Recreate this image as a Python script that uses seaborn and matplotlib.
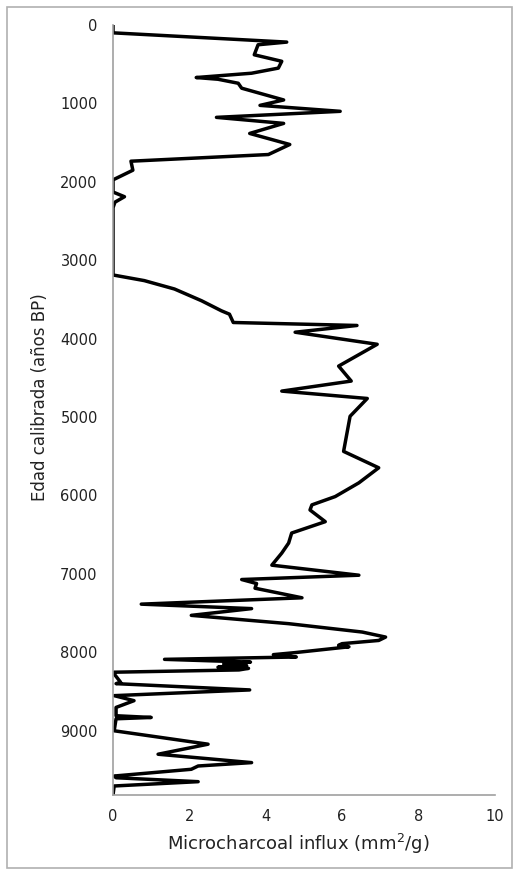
import matplotlib
matplotlib.use("Agg")
import matplotlib.pyplot as plt
import seaborn as sns
import pandas as pd
from matplotlib.patches import Rectangle

# edad calibrada (años BP) y flujo de microcarbón (mm2/g)
age = [0, 100, 218, 252, 380, 463, 550, 615, 670, 692, 743, 806, 956, 1025,
       1101, 1178, 1255, 1383, 1524, 1652, 1737, 1852, 1975, 2130, 2190, 2260,
       2330, 3188, 3260, 3367, 3517, 3645, 3688, 3794, 3832, 3918, 4072, 4350,
       4541, 4669, 4763, 4990, 5438, 5647, 5839, 6014, 6120, 6185, 6334, 6479,
       6607, 6735, 6889, 7017, 7072, 7123, 7183, 7305, 7386, 7443, 7529, 7635,
       7742, 7806, 7849, 7890, 7910, 7930, 8005, 8030, 8060, 8090, 8125, 8150,
       8170, 8190, 8205, 8225, 8254, 8276, 8383, 8400, 8480, 8553, 8617, 8703,
       8809, 8831, 8848, 9001, 9172, 9300, 9407, 9450, 9492, 9578, 9600, 9650,
       9705, 9820]
influx = [0, 0, 4.55, 3.8, 3.7, 4.42, 4.33, 3.63, 2.18, 2.75, 3.28, 3.37, 4.47,
          3.85, 5.95, 2.71, 4.47, 3.58, 4.63, 4.07, 0.47, 0.52, 0.0, 0.0, 0.3,
          0.05, 0, 0, 0.82, 1.61, 2.32, 2.84, 3.05, 3.15, 6.39, 4.77, 6.92,
          5.91, 6.24, 4.42, 6.66, 6.21, 6.04, 6.96, 6.44, 5.82, 5.21, 5.16,
          5.56, 4.68, 4.6, 4.42, 4.16, 6.44, 3.37, 3.76, 3.72, 4.95, 0.74,
          3.63, 2.05, 4.6, 6.53, 7.14, 6.96, 6.0, 5.91, 6.18, 4.75, 4.2, 4.8,
          1.35, 3.6, 2.9, 3.5, 2.75, 3.55, 3.3, 0.03, 0.03, 0.2, 0.08, 3.58,
          0.03, 0.55, 0.08, 0.08, 1.0, 0.08, 0.03, 2.49, 1.18, 3.63, 2.23,
          2.05, 0.03, 0.08, 2.23, 0.03, 0]

y_ticks = [0, 1000, 2000, 3000, 4000, 5000, 6000, 7000, 8000, 9000]
x_ticks = [0, 2, 4, 6, 8, 10]

df = pd.DataFrame({"age": age, "influx": influx})

sns.set_theme(style="white")
plt.rcParams["font.family"] = ["DejaVu Sans"]

fig = plt.figure(figsize=(5.17, 8.77), dpi=100)
ax = fig.add_axes([0.2186, 0.0935, 0.957 - 0.2186, 0.9715 - 0.0935])

sns.lineplot(data=df, x="influx", y="age", sort=False, estimator=None,
             color="black", linewidth=2.5, ax=ax)

ax.set_ylim(9820, 0)
ax.set_xlim(0, 10)
ax.set_yticks(y_ticks)
ax.set_xticks(x_ticks)
ax.tick_params(length=0, labelsize=10.5, colors="#222222")
ax.tick_params(axis="y", pad=11)
ax.tick_params(axis="x", pad=10)

for s in ["top", "right"]:
    ax.spines[s].set_visible(False)
for s in ["left", "bottom"]:
    ax.spines[s].set_color("#a0a0a0")
    ax.spines[s].set_linewidth(1.2)

ax.set_ylabel("Edad calibrada (años BP)", fontsize=12, color="#222222")
ax.yaxis.set_label_coords(-0.168, 0.517)
ax.set_xlabel("Microcharcoal influx (mm$^2$/g)", fontsize=13, labelpad=5, color="#222222")
ax.xaxis.set_label_coords(0.485, -0.048)

# marco gris alrededor de la figura
fig.patches.append(Rectangle((7 / 517, 1 - 868 / 877), 505 / 517, 861 / 877,
                             transform=fig.transFigure, fill=False,
                             edgecolor="#b0b0b0", linewidth=1.2))

fig.savefig("out.png", dpi=100)
